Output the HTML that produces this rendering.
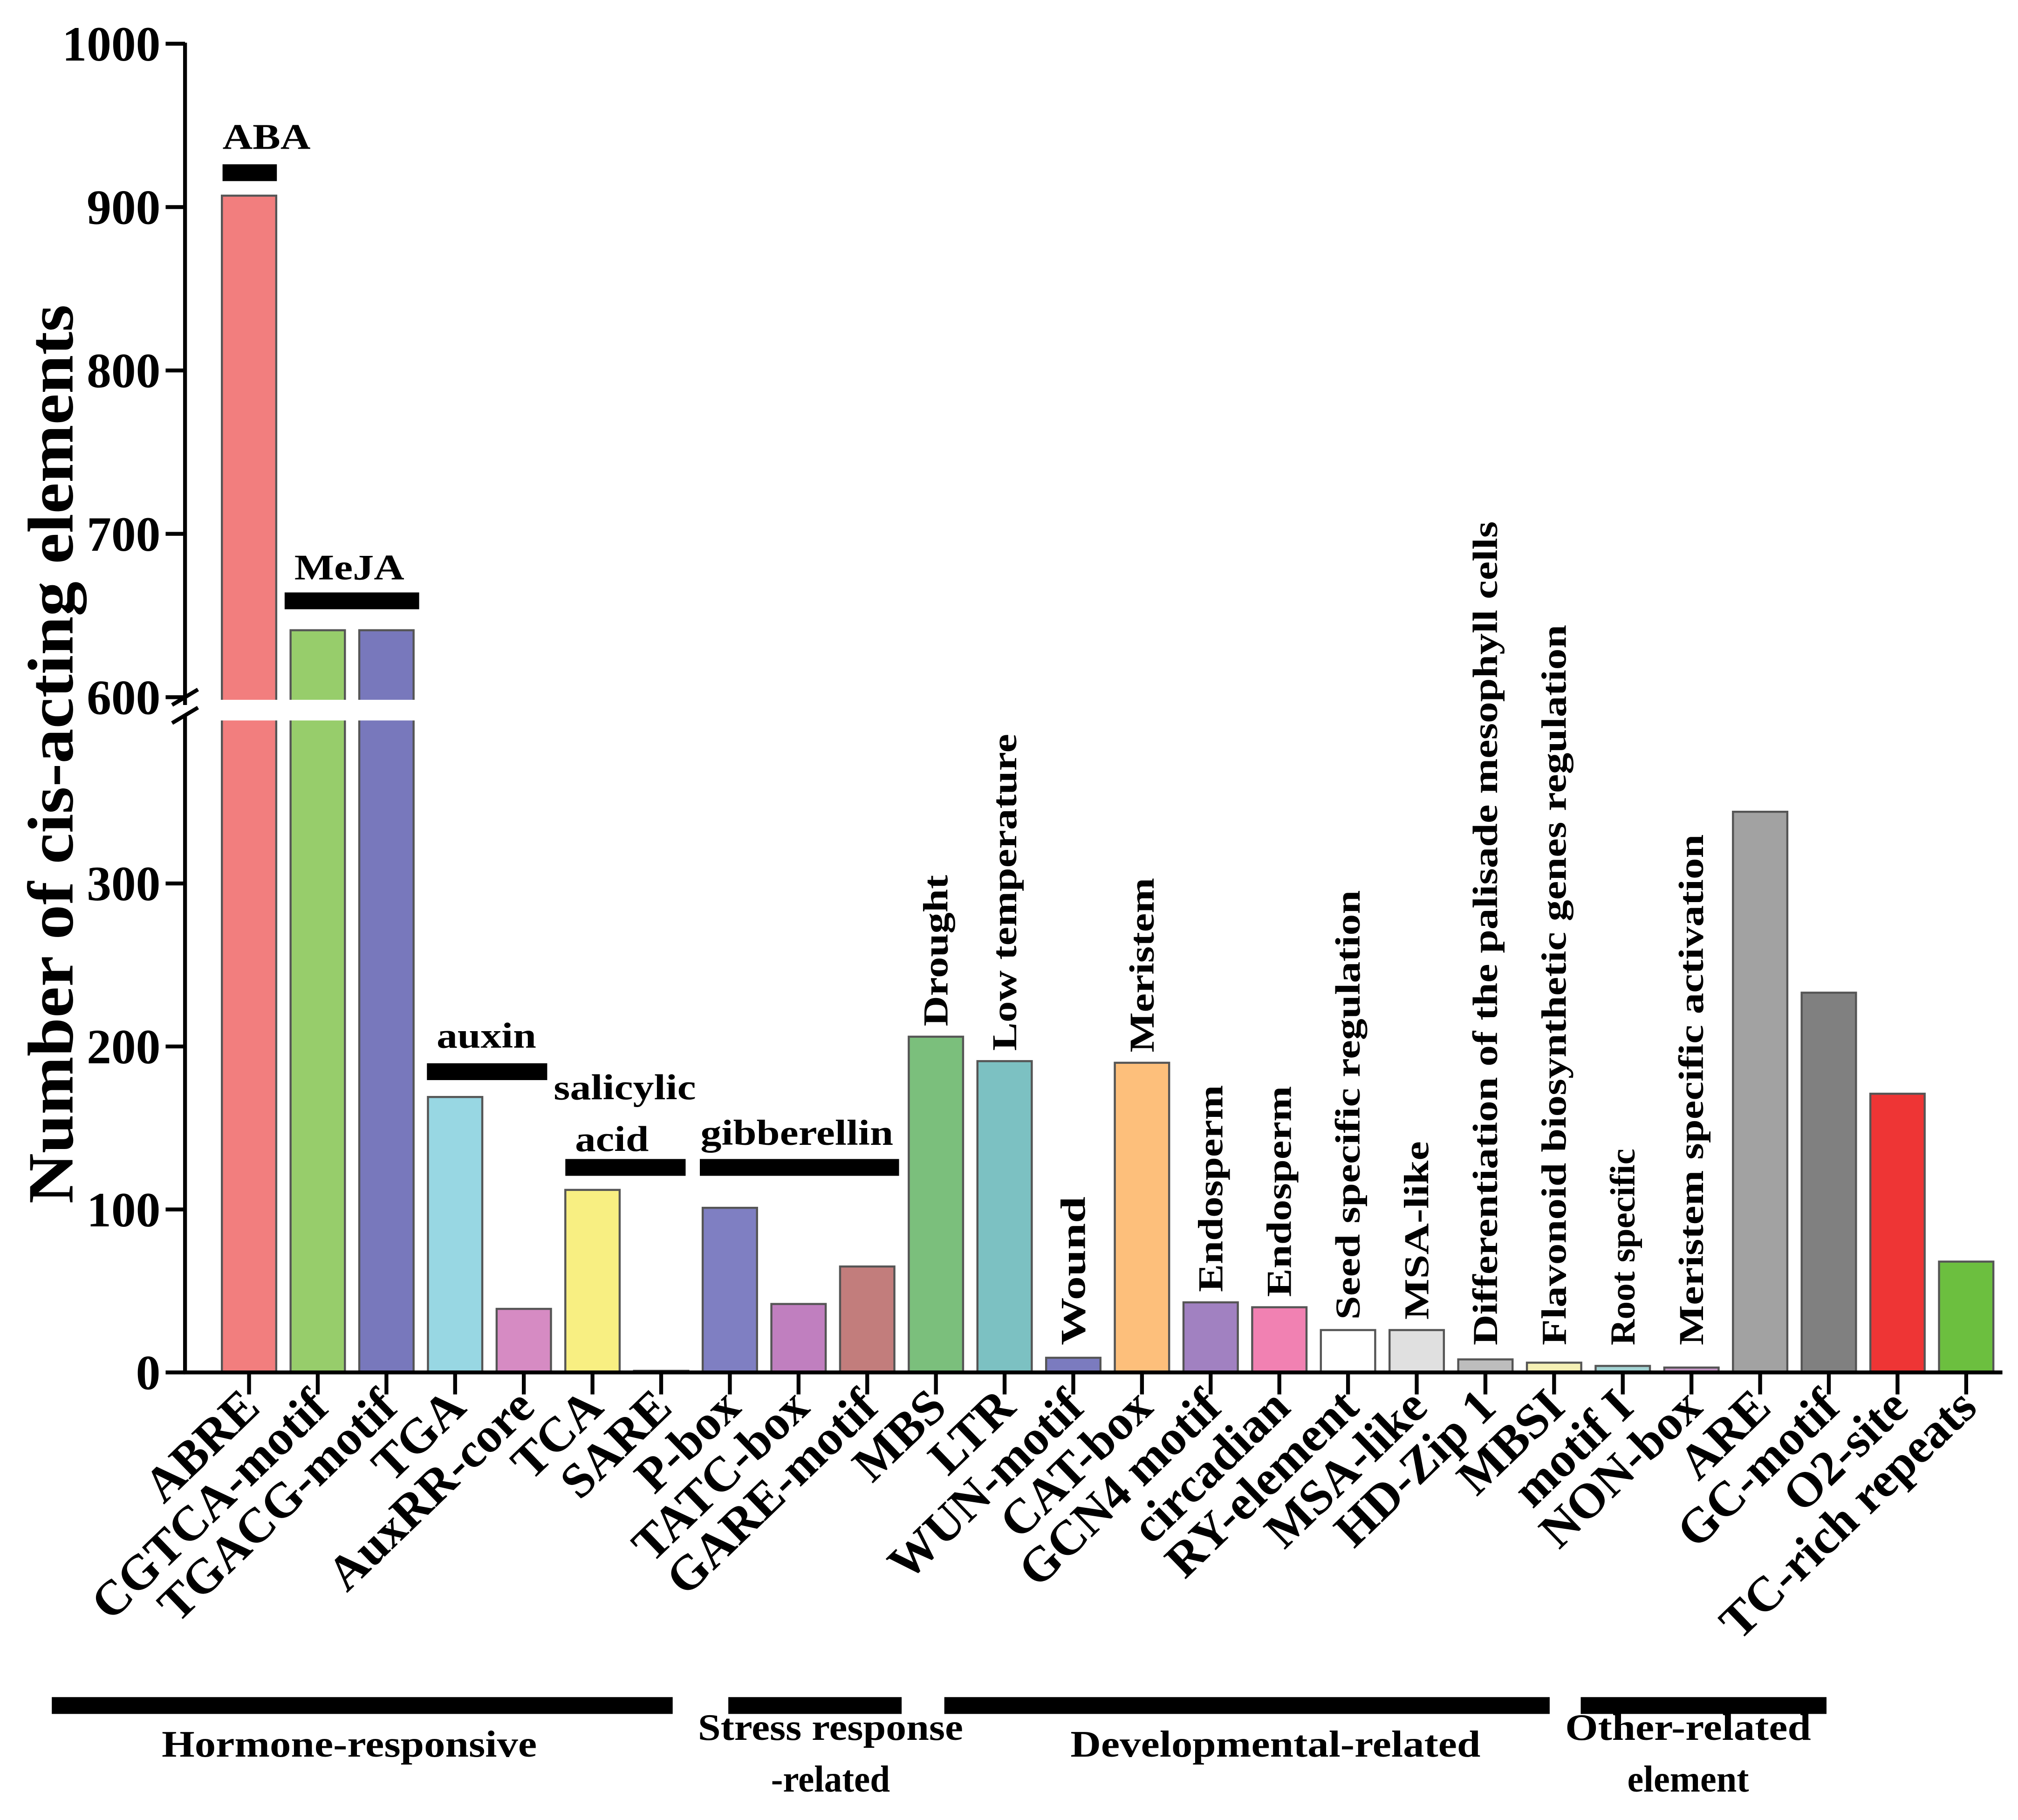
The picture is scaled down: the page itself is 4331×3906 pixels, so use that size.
<!DOCTYPE html>
<html><head><meta charset="utf-8"><style>
html,body{margin:0;padding:0;background:#fff}
svg{display:block}
text{font-family:"Liberation Serif",serif;font-weight:bold;fill:#000}
</style></head><body>
<svg id="chart" width="4331" height="3906" viewBox="0 0 1560 1407" xmlns="http://www.w3.org/2000/svg">
<g id="bars"></g>
<g id="axes"></g>
<g id="labels"></g>
</svg>
<script>
const categories=["ABRE","CGTCA-motif","TGACG-motif","TGA","AuxRR-core","TCA","SARE","P-box","TATC-box","GARE-motif","MBS","LTR","WUN-motif","CAT-box","GCN4_motif","circadian","RY-element","MSA-like","HD-Zip 1","MBSI","motif I","NON-box","ARE","GC-motif","O2-site","TC-rich repeats"];
const values=[907,641,641,169,39,112,1,101,42,65,206,191,9,190,43,40,26,26,8,6,4,3,344,233,171,68];
const colors=["#f27e7e","#97cd6b","#7878bc","#98d7e3","#d68bc3","#f8ef82","#ffffff","#7f7fc2","#c07fbf","#c27d7c","#7bbf7c","#7cc1c2","#7b7bbf","#fdbf7b","#a181c1","#f181b2","#ffffff","#e0e0e0","#bdbdbd","#f5f0b5","#a3d3d3","#c495c4","#a2a2a2","#808080","#ee3535","#6cbf3f"];
const lowerTicks=[0,100,200,300];
const upperTicks=[600,700,800,900,1000];
const annotations=["Drought","Low temperature","Wound","Meristem","Endosperm","Endosperm","Seed specific regulation","MSA-like","Differentiation of the palisade mesophyll cells","Flavonoid biosynthetic genes regulation","Root specific","Meristem specific activation"];
const annotationIdx=[10,11,12,13,14,15,16,17,18,19,20,21];
const annotationLen=[117,245,115,135,160,163,332,138,637,557,152,395];

const NS="http://www.w3.org/2000/svg";
function el(tag,attrs,parent,txt){const e=document.createElementNS(NS,tag);for(const k in attrs)e.setAttribute(k,attrs[k]);if(txt!==undefined)e.textContent=txt;parent.appendChild(e);return e;}
function y(v){return v<=450? 1061-v*1.26 : 539-(v-600)*1.263;}
function xc(i){return 192.5+i*53.1;}
const gB=document.getElementById('bars'),gA=document.getElementById('axes'),gL=document.getElementById('labels');
const bw=42;
values.forEach((v,i)=>{
  const top=y(v);
  const r=el('rect',{x:xc(i)-bw/2,y:top,width:bw,height:Math.max(1061-top,0.8),fill:colors[i],stroke:'#555','stroke-width':1.6},gB);
  
  
});
const gap=el('polygon',{points:"140,541 1000,541 1000,557 140,557",fill:'#fff'},gB);


let ax=el('line',{x1:143,y1:33,x2:143,y2:545,stroke:'#000','stroke-width':3},gA);

ax=el('line',{x1:143,y1:553,x2:143,y2:1062,stroke:'#000','stroke-width':3},gA);

ax=el('line',{x1:142,y1:1061,x2:1548,y2:1061,stroke:'#000','stroke-width':3},gA);

for(const d of [0,14]){const b=el('line',{x1:133,y1:550+d-5,x2:153,y2:538+d-5,stroke:'#000','stroke-width':3},gA);
}
lowerTicks.concat(upperTicks).forEach(t=>{
  const ty=y(t);
  const l=el('line',{x1:128,y1:ty,x2:143,y2:ty,stroke:'#000','stroke-width':3},gA);
  
  const tx=el('text',{x:124,y:ty+13,'text-anchor':'end','font-size':38},gA,String(t));
  
});
categories.forEach((c,i)=>{
  const l=el('line',{x1:xc(i),y1:1061,x2:xc(i),y2:1078,stroke:'#000','stroke-width':3},gA);
  
  const t=el('text',{x:0,y:0,'text-anchor':'end','font-size':38,transform:`translate(${xc(i)+10},${1090}) rotate(-44)`},gL,c.replace('_','  '));
  
});
annotations.forEach((a,k)=>{
  const i=annotationIdx[k];
  const base=Math.min(y(values[i])-8,1040);
  const t=el('text',{x:0,y:0,'font-size':27,textLength:annotationLen[k],lengthAdjust:'spacingAndGlyphs',transform:`translate(${xc(i)+9},${base}) rotate(-90)`},gL,a);
  
});
const yt=el('text',{x:0,y:0,'text-anchor':'middle','font-size':50,textLength:695,lengthAdjust:'spacingAndGlyphs',transform:'translate(56,583) rotate(-90)'},gL,'Number of cis-acting elements');

const hb=[[172,214,127,"ABA",206,115,68,null],[220,324,458,"MeJA",270,448,85,null],[330,423,822,"auxin",376,810,77,null],[437,530,896,"salicylic",483,850,110,"acid",57,473],[541,695,896,"gibberellin",616,885,149,null]];
hb.forEach(h=>{
  const r=el('rect',{x:h[0],y:h[2],width:h[1]-h[0],height:13,fill:'#000'},gL);
  
  const t=el('text',{x:h[4],y:h[5],'text-anchor':'middle','font-size':28,textLength:h[6],lengthAdjust:'spacingAndGlyphs'},gL,h[3]);
  
  if(h[7]){const t2=el('text',{x:h[9],y:890,'text-anchor':'middle','font-size':28,textLength:h[8],lengthAdjust:'spacingAndGlyphs'},gL,h[7]);
  }
});
const groups=[[40,520,["Hormone-responsive"],270,[1358],[290]],[563,697,["Stress response","-related"],642,[1345,1385],[205,92]],[730,1198,["Developmental-related"],986,[1358],[317]],[1222,1412,["Other-related","element"],1305,[1345,1385],[190,94]]];
groups.forEach(g=>{
  const r=el('rect',{x:g[0],y:1312,width:g[1]-g[0],height:13,fill:'#000'},gL);
  
  g[2].forEach((s,j)=>{const t=el('text',{x:g[3],y:g[4][j],'text-anchor':'middle','font-size':29,textLength:g[5][j],lengthAdjust:'spacingAndGlyphs'},gL,s);
  });
});
</script>
</body></html>
